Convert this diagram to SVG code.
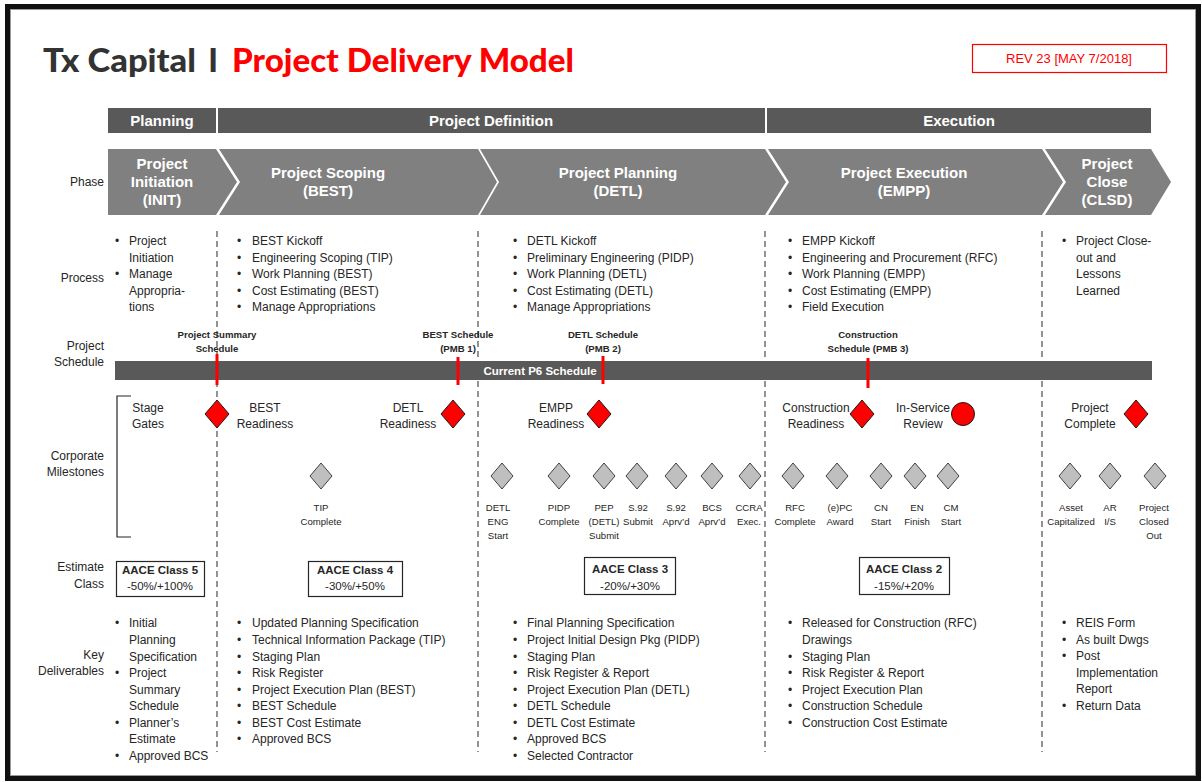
<svg xmlns="http://www.w3.org/2000/svg" width="1202" height="782" viewBox="0 0 1202 782">
  <style>
    text { font-family: "Liberation Sans", Arial, sans-serif; fill: #262626; }
    .lbl { font-size: 12px; text-anchor: end; }
    .body { font-size: 12px; }
    .mid { text-anchor: middle; }
    .ms { font-size: 9.6px; text-anchor: middle; }
    .sched { font-size: 9.6px; font-weight: bold; text-anchor: middle; }
    .band { fill: #595959; }
    .bandtxt { fill: #ffffff; font-size: 15px; font-weight: bold; text-anchor: middle; }
    .chev { fill: #808080; }
    .chevtxt { fill: #ffffff; font-size: 15px; font-weight: bold; text-anchor: middle; }
    .sep { stroke: #595959; stroke-width: 1.3; stroke-dasharray: 6 4; fill: none; }
    .gate { fill: #ff0000; stroke: #1a1a1a; stroke-width: 1; }
    .mile { fill: #bfbfbf; stroke: #404040; stroke-width: 1; }
    .tick { stroke: #ff0000; stroke-width: 3; }
    .box { fill: #ffffff; stroke: #262626; stroke-width: 1.2; }
    .boxhead { font-size: 11.5px; font-weight: bold; text-anchor: middle; }
    .boxsub { font-size: 11.5px; text-anchor: middle; }
    .title { font-family: Lato, "DejaVu Sans", sans-serif; font-size: 32px; font-weight: 900; }
  </style>
  <defs>
    <path id="gateShape" d="M0,-14 L12,0 L0,14 L-12,0 Z"/>
    <path id="mileShape" d="M0,-13 L11,0 L0,13 L-11,0 Z"/>
  </defs>

  <!-- page frame -->
  <rect x="0" y="0" width="1202" height="782" fill="#ffffff"/>
  <rect x="7.5" y="6.5" width="1191" height="772" fill="none" stroke="#111111" stroke-width="5"/>
  <rect x="10.5" y="9.5" width="1185" height="766" fill="none" stroke="#9a9a9a" stroke-width="1"/>

  <!-- title -->
  <g id="title">
    <text class="title" x="43" y="72" style="fill: #333333;" textLength="153" lengthAdjust="spacingAndGlyphs">Tx Capital</text>
    <text class="title" x="213" y="72" style="fill: #333333; text-anchor: middle;">I</text>
    <text class="title" x="232" y="72" style="fill: #ff0000;" textLength="342" lengthAdjust="spacingAndGlyphs">Project Delivery Model</text>
  </g>
  <g id="revision">
    <rect x="972.5" y="44.5" width="194" height="28" fill="#ffffff" stroke="#ff0000" stroke-width="1.2"/>
    <text x="1069" y="63" style="font-size: 13px; fill: #ff0000; text-anchor: middle;">REV 23 [MAY 7/2018]</text>
  </g>

  <!-- stage bands -->
  <g id="band-planning">
    <rect class="band" x="108" y="108" width="108" height="25"/>
    <text class="bandtxt" x="162" y="126">Planning</text>
  </g>
  <g id="band-definition">
    <rect class="band" x="218" y="108" width="547" height="25"/>
    <text class="bandtxt" x="491" y="126">Project Definition</text>
  </g>
  <g id="band-execution">
    <rect class="band" x="767" y="108" width="384" height="25"/>
    <text class="bandtxt" x="959" y="126">Execution</text>
  </g>

  <!-- phase chevrons -->
  <text class="lbl" x="104" y="186">Phase</text>
  <g id="phase-init">
    <path class="chev" d="M108,149 L216,149 L237,182 L216,215 L108,215 Z"/>
    <text class="chevtxt" x="162" y="169">Project</text>
    <text class="chevtxt" x="162" y="187">Initiation</text>
    <text class="chevtxt" x="162" y="205">(INIT)</text>
  </g>
  <g id="phase-best">
    <path class="chev" d="M219,149 L478,149 L497,182 L478,215 L219,215 L240,182 Z"/>
    <text class="chevtxt" x="328" y="178">Project Scoping</text>
    <text class="chevtxt" x="328" y="196">(BEST)</text>
  </g>
  <g id="phase-detl">
    <path class="chev" d="M480,149 L765,149 L786,182 L765,215 L480,215 L499,182 Z"/>
    <text class="chevtxt" x="618" y="178">Project Planning</text>
    <text class="chevtxt" x="618" y="196">(DETL)</text>
  </g>
  <g id="phase-empp">
    <path class="chev" d="M768,149 L1042,149 L1063,182 L1042,215 L768,215 L789,182 Z"/>
    <text class="chevtxt" x="904" y="178">Project Execution</text>
    <text class="chevtxt" x="904" y="196">(EMPP)</text>
  </g>
  <g id="phase-clsd">
    <path class="chev" d="M1045,149 L1151,149 L1171,182 L1151,215 L1045,215 L1066,182 Z"/>
    <text class="chevtxt" x="1107" y="169">Project</text>
    <text class="chevtxt" x="1107" y="187">Close</text>
    <text class="chevtxt" x="1107" y="205">(CLSD)</text>
  </g>

  <!-- dashed phase separators -->
  <g id="separators">
    <line class="sep" x1="217" y1="231" x2="217" y2="752"/>
    <line class="sep" x1="478" y1="231" x2="478" y2="752"/>
    <line class="sep" x1="765" y1="231" x2="765" y2="752"/>
    <line class="sep" x1="1042" y1="231" x2="1042" y2="752"/>
  </g>

  <!-- row labels -->
  <g id="row-labels">
    <text class="lbl" x="104" y="282">Process</text>
    <text class="lbl" x="104" y="350">Project</text>
    <text class="lbl" x="104" y="366">Schedule</text>
    <text class="lbl" x="104" y="460">Corporate</text>
    <text class="lbl" x="104" y="476">Milestones</text>
    <text class="lbl" x="104" y="571">Estimate</text>
    <text class="lbl" x="104" y="588">Class</text>
    <text class="lbl" x="104" y="659">Key</text>
    <text class="lbl" x="104" y="675">Deliverables</text>
  </g>

  <!-- process lists -->
  <g id="process-init" class="body">
    <text x="115" y="245">•</text><text x="129" y="245">Project</text>
    <text x="129" y="261.5">Initiation</text>
    <text x="115" y="278">•</text><text x="129" y="278">Manage</text>
    <text x="129" y="294.5">Appropria-</text>
    <text x="129" y="311">tions</text>
  </g>
  <g id="process-best" class="body">
    <text x="237" y="245">•</text><text x="252" y="245">BEST Kickoff</text>
    <text x="237" y="261.5">•</text><text x="252" y="261.5">Engineering Scoping (TIP)</text>
    <text x="237" y="278">•</text><text x="252" y="278">Work Planning (BEST)</text>
    <text x="237" y="294.5">•</text><text x="252" y="294.5">Cost Estimating (BEST)</text>
    <text x="237" y="311">•</text><text x="252" y="311">Manage Appropriations</text>
  </g>
  <g id="process-detl" class="body">
    <text x="513" y="245">•</text><text x="527" y="245">DETL Kickoff</text>
    <text x="513" y="261.5">•</text><text x="527" y="261.5">Preliminary Engineering (PIDP)</text>
    <text x="513" y="278">•</text><text x="527" y="278">Work Planning (DETL)</text>
    <text x="513" y="294.5">•</text><text x="527" y="294.5">Cost Estimating (DETL)</text>
    <text x="513" y="311">•</text><text x="527" y="311">Manage Appropriations</text>
  </g>
  <g id="process-empp" class="body">
    <text x="788" y="245">•</text><text x="802" y="245">EMPP Kickoff</text>
    <text x="788" y="261.5">•</text><text x="802" y="261.5">Engineering and Procurement (RFC)</text>
    <text x="788" y="278">•</text><text x="802" y="278">Work Planning (EMPP)</text>
    <text x="788" y="294.5">•</text><text x="802" y="294.5">Cost Estimating (EMPP)</text>
    <text x="788" y="311">•</text><text x="802" y="311">Field Execution</text>
  </g>
  <g id="process-clsd" class="body">
    <text x="1062" y="245">•</text><text x="1076" y="245">Project Close-</text>
    <text x="1076" y="261.5">out and</text>
    <text x="1076" y="278">Lessons</text>
    <text x="1076" y="294.5">Learned</text>
  </g>

  <!-- project schedule -->
  <g id="schedule-labels">
    <text class="sched" x="217" y="338">Project Summary</text>
    <text class="sched" x="217" y="352">Schedule</text>
    <text class="sched" x="458" y="338">BEST Schedule</text>
    <text class="sched" x="458" y="352">(PMB 1)</text>
    <text class="sched" x="603" y="338">DETL Schedule</text>
    <text class="sched" x="603" y="352">(PMB 2)</text>
    <text class="sched" x="868" y="338">Construction</text>
    <text class="sched" x="868" y="352">Schedule (PMB 3)</text>
  </g>
  <g id="p6-schedule">
    <rect class="band" x="115" y="361" width="1037" height="19"/>
    <text x="540" y="375" style="fill: #ffffff; font-size: 11.5px; font-weight: bold; text-anchor: middle;">Current P6 Schedule</text>
    <line class="tick" x1="217" y1="354" x2="217" y2="385"/>
    <line class="tick" x1="458" y1="357" x2="458" y2="385"/>
    <line class="tick" x1="603" y1="356" x2="603" y2="384"/>
    <line class="tick" x1="868" y1="358" x2="868" y2="388"/>
  </g>

  <!-- corporate milestones bracket -->
  <path d="M131,396 L117,396 L117,537 L131,537" fill="none" stroke="#262626" stroke-width="1.2"/>
  <g id="stage-gates-label" class="body">
    <text class="mid" x="148" y="412">Stage</text>
    <text class="mid" x="148" y="428">Gates</text>
  </g>

  <!-- stage gates -->
  <g id="gate-best">
    <use href="#gateShape" class="gate" x="217" y="414"/>
    <text class="body mid" x="265" y="412">BEST</text>
    <text class="body mid" x="265" y="428">Readiness</text>
  </g>
  <g id="gate-detl">
    <use href="#gateShape" class="gate" x="453" y="414"/>
    <text class="body mid" x="408" y="412">DETL</text>
    <text class="body mid" x="408" y="428">Readiness</text>
  </g>
  <g id="gate-empp">
    <use href="#gateShape" class="gate" x="599" y="414"/>
    <text class="body mid" x="556" y="412">EMPP</text>
    <text class="body mid" x="556" y="428">Readiness</text>
  </g>
  <g id="gate-construction">
    <use href="#gateShape" class="gate" x="862" y="414"/>
    <text class="body mid" x="816" y="412">Construction</text>
    <text class="body mid" x="816" y="428">Readiness</text>
  </g>
  <g id="gate-inservice">
    <circle class="gate" cx="963" cy="414" r="11.5"/>
    <text class="body mid" x="923" y="412">In-Service</text>
    <text class="body mid" x="923" y="428">Review</text>
  </g>
  <g id="gate-complete">
    <use href="#gateShape" class="gate" x="1136" y="414"/>
    <text class="body mid" x="1090" y="412">Project</text>
    <text class="body mid" x="1090" y="428">Complete</text>
  </g>

  <!-- corporate milestones -->
  <g id="ms-tip"><use href="#mileShape" class="mile" x="321" y="476"/>
    <text class="ms" x="321" y="511">TIP</text><text class="ms" x="321" y="525">Complete</text></g>
  <g id="ms-detl-eng"><use href="#mileShape" class="mile" x="502" y="476"/>
    <text class="ms" x="498" y="511">DETL</text><text class="ms" x="498" y="525">ENG</text><text class="ms" x="498" y="539">Start</text></g>
  <g id="ms-pidp"><use href="#mileShape" class="mile" x="559" y="476"/>
    <text class="ms" x="559" y="511">PIDP</text><text class="ms" x="559" y="525">Complete</text></g>
  <g id="ms-pep"><use href="#mileShape" class="mile" x="604" y="476"/>
    <text class="ms" x="604" y="511">PEP</text><text class="ms" x="604" y="525">(DETL)</text><text class="ms" x="604" y="539">Submit</text></g>
  <g id="ms-s92-submit"><use href="#mileShape" class="mile" x="637" y="476"/>
    <text class="ms" x="638" y="511">S.92</text><text class="ms" x="638" y="525">Submit</text></g>
  <g id="ms-s92-aprvd"><use href="#mileShape" class="mile" x="676" y="476"/>
    <text class="ms" x="676" y="511">S.92</text><text class="ms" x="676" y="525">Aprv’d</text></g>
  <g id="ms-bcs"><use href="#mileShape" class="mile" x="712" y="476"/>
    <text class="ms" x="712" y="511">BCS</text><text class="ms" x="712" y="525">Aprv’d</text></g>
  <g id="ms-ccra"><use href="#mileShape" class="mile" x="750" y="476"/>
    <text class="ms" x="749" y="511">CCRA</text><text class="ms" x="749" y="525">Exec.</text></g>
  <g id="ms-rfc"><use href="#mileShape" class="mile" x="793" y="476"/>
    <text class="ms" x="795" y="511">RFC</text><text class="ms" x="795" y="525">Complete</text></g>
  <g id="ms-epc"><use href="#mileShape" class="mile" x="837" y="476"/>
    <text class="ms" x="840" y="511">(e)PC</text><text class="ms" x="840" y="525">Award</text></g>
  <g id="ms-cn"><use href="#mileShape" class="mile" x="881" y="476"/>
    <text class="ms" x="881" y="511">CN</text><text class="ms" x="881" y="525">Start</text></g>
  <g id="ms-en"><use href="#mileShape" class="mile" x="915" y="476"/>
    <text class="ms" x="917" y="511">EN</text><text class="ms" x="917" y="525">Finish</text></g>
  <g id="ms-cm"><use href="#mileShape" class="mile" x="948" y="476"/>
    <text class="ms" x="951" y="511">CM</text><text class="ms" x="951" y="525">Start</text></g>
  <g id="ms-asset"><use href="#mileShape" class="mile" x="1070" y="476"/>
    <text class="ms" x="1071" y="511">Asset</text><text class="ms" x="1071" y="525">Capitalized</text></g>
  <g id="ms-ar"><use href="#mileShape" class="mile" x="1110" y="476"/>
    <text class="ms" x="1110" y="511">AR</text><text class="ms" x="1110" y="525">I/S</text></g>
  <g id="ms-closed"><use href="#mileShape" class="mile" x="1155" y="476"/>
    <text class="ms" x="1154" y="511">Project</text><text class="ms" x="1154" y="525">Closed</text><text class="ms" x="1154" y="539">Out</text></g>

  <!-- estimate classes -->
  <g id="aace-5">
    <rect class="box" x="116.5" y="561.5" width="88" height="35"/>
    <text class="boxhead" x="160" y="574">AACE Class 5</text>
    <text class="boxsub" x="160" y="590">-50%/+100%</text>
  </g>
  <g id="aace-4">
    <rect class="box" x="308.5" y="561.5" width="94" height="35"/>
    <text class="boxhead" x="355" y="574">AACE Class 4</text>
    <text class="boxsub" x="355" y="590">-30%/+50%</text>
  </g>
  <g id="aace-3">
    <rect class="box" x="584.5" y="557.5" width="91" height="37"/>
    <text class="boxhead" x="630" y="573">AACE Class 3</text>
    <text class="boxsub" x="630" y="590">-20%/+30%</text>
  </g>
  <g id="aace-2">
    <rect class="box" x="859.5" y="557.5" width="90" height="37"/>
    <text class="boxhead" x="904" y="573">AACE Class 2</text>
    <text class="boxsub" x="904" y="590">-15%/+20%</text>
  </g>

  <!-- key deliverables -->
  <g id="deliv-init" class="body">
    <text x="115" y="627">•</text><text x="129" y="627">Initial</text>
    <text x="129" y="644">Planning</text>
    <text x="129" y="660.5">Specification</text>
    <text x="115" y="677">•</text><text x="129" y="677">Project</text>
    <text x="129" y="693.5">Summary</text>
    <text x="129" y="710">Schedule</text>
    <text x="115" y="726.5">•</text><text x="129" y="726.5">Planner’s</text>
    <text x="129" y="743">Estimate</text>
    <text x="115" y="760">•</text><text x="129" y="760">Approved BCS</text>
  </g>
  <g id="deliv-best" class="body">
    <text x="237" y="627">•</text><text x="252" y="627">Updated Planning Specification</text>
    <text x="237" y="644">•</text><text x="252" y="644">Technical Information Package (TIP)</text>
    <text x="237" y="660.5">•</text><text x="252" y="660.5">Staging Plan</text>
    <text x="237" y="677">•</text><text x="252" y="677">Risk Register</text>
    <text x="237" y="693.5">•</text><text x="252" y="693.5">Project Execution Plan (BEST)</text>
    <text x="237" y="710">•</text><text x="252" y="710">BEST Schedule</text>
    <text x="237" y="726.5">•</text><text x="252" y="726.5">BEST Cost Estimate</text>
    <text x="237" y="743">•</text><text x="252" y="743">Approved BCS</text>
  </g>
  <g id="deliv-detl" class="body">
    <text x="513" y="627">•</text><text x="527" y="627">Final Planning Specification</text>
    <text x="513" y="644">•</text><text x="527" y="644">Project Initial Design Pkg (PIDP)</text>
    <text x="513" y="660.5">•</text><text x="527" y="660.5">Staging Plan</text>
    <text x="513" y="677">•</text><text x="527" y="677">Risk Register &amp; Report</text>
    <text x="513" y="693.5">•</text><text x="527" y="693.5">Project Execution Plan (DETL)</text>
    <text x="513" y="710">•</text><text x="527" y="710">DETL Schedule</text>
    <text x="513" y="726.5">•</text><text x="527" y="726.5">DETL Cost Estimate</text>
    <text x="513" y="743">•</text><text x="527" y="743">Approved BCS</text>
    <text x="513" y="760">•</text><text x="527" y="760">Selected Contractor</text>
  </g>
  <g id="deliv-empp" class="body">
    <text x="788" y="627">•</text><text x="802" y="627">Released for Construction (RFC)</text>
    <text x="802" y="644">Drawings</text>
    <text x="788" y="660.5">•</text><text x="802" y="660.5">Staging Plan</text>
    <text x="788" y="677">•</text><text x="802" y="677">Risk Register &amp; Report</text>
    <text x="788" y="693.5">•</text><text x="802" y="693.5">Project Execution Plan</text>
    <text x="788" y="710">•</text><text x="802" y="710">Construction Schedule</text>
    <text x="788" y="726.5">•</text><text x="802" y="726.5">Construction Cost Estimate</text>
  </g>
  <g id="deliv-clsd" class="body">
    <text x="1062" y="627">•</text><text x="1076" y="627">REIS Form</text>
    <text x="1062" y="643.5">•</text><text x="1076" y="643.5">As built Dwgs</text>
    <text x="1062" y="660">•</text><text x="1076" y="660">Post</text>
    <text x="1076" y="676.5">Implementation</text>
    <text x="1076" y="693">Report</text>
    <text x="1062" y="709.5">•</text><text x="1076" y="709.5">Return Data</text>
  </g>
</svg>
